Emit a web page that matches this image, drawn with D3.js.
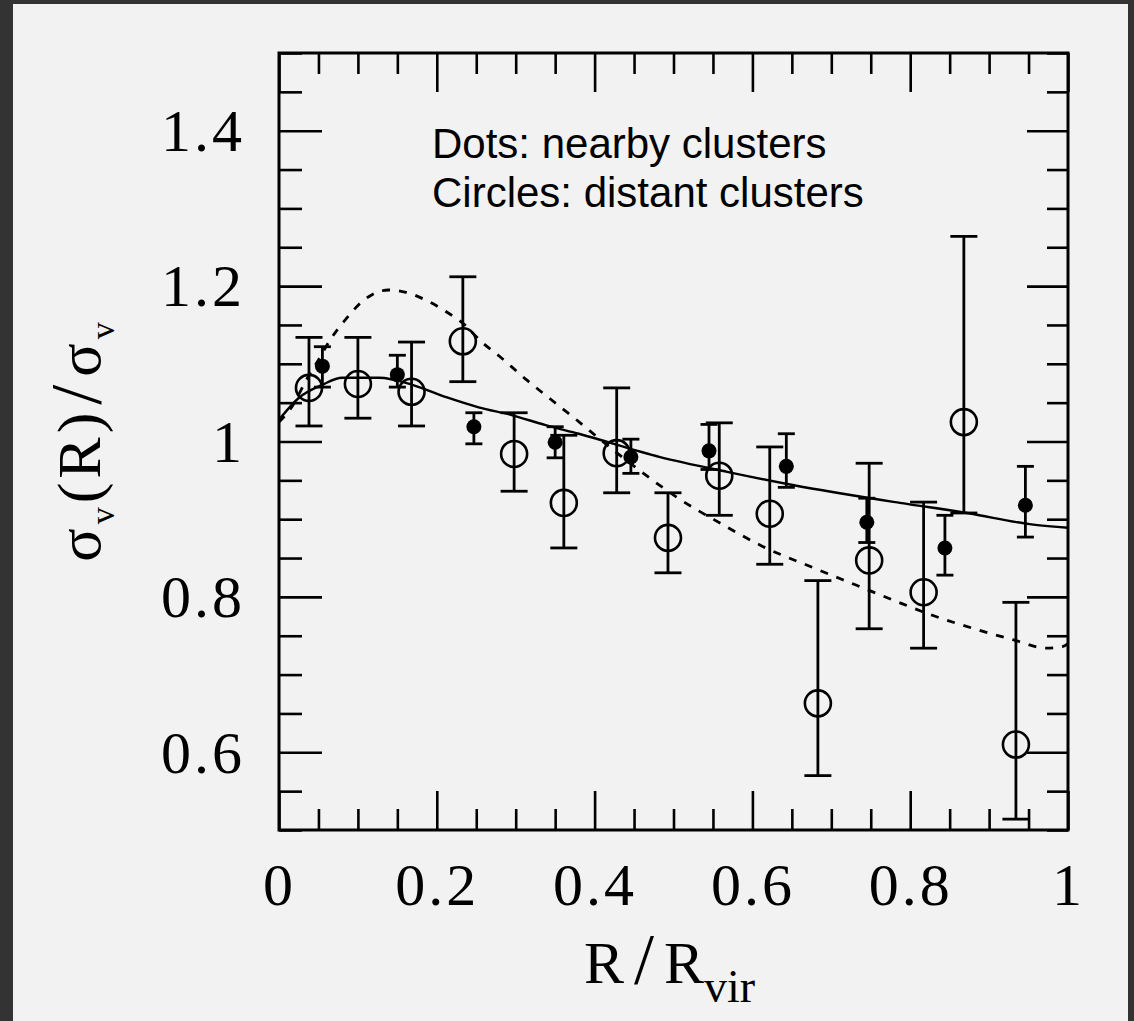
<!DOCTYPE html>
<html>
<head>
<meta charset="utf-8">
<script src="https://cdn.jsdelivr.net/npm/d3@7"></script>
<style>
html, body { margin: 0; padding: 0; background: #333; }
svg { display: block; }
</style>
</head>
<body>
<svg id="chart" width="1134" height="1021"></svg>
<script>
// nearby clusters (dots)
const near_r  = [0.055, 0.150, 0.247, 0.350, 0.446, 0.545, 0.643, 0.745, 0.844, 0.946]
const near_s  = [1.097, 1.086, 1.019, 0.999, 0.980, 0.988, 0.968, 0.896, 0.863, 0.918]
const near_lo = [1.070, 1.070, 0.997, 0.979, 0.959, 0.964, 0.941, 0.870, 0.828, 0.877]
const near_hi = [1.122, 1.111, 1.037, 1.019, 1.003, 1.022, 1.010, 0.927, 0.905, 0.968]

// distant clusters (circles)
const far_r  = [0.038, 0.100, 0.168, 0.233, 0.298, 0.361, 0.428, 0.493, 0.558, 0.622, 0.683, 0.748, 0.817, 0.868, 0.934]
const far_s  = [1.069, 1.074, 1.064, 1.129, 0.984, 0.921, 0.985, 0.876, 0.956, 0.907, 0.663, 0.847, 0.806, 1.025, 0.610]
const far_lo = [1.020, 1.030, 1.020, 1.077, 0.936, 0.863, 0.934, 0.831, 0.905, 0.842, 0.570, 0.759, 0.734, 0.908, 0.514]
const far_hi = [1.134, 1.134, 1.128, 1.212, 1.037, 1.008, 1.069, 0.934, 1.024, 0.993, 0.821, 0.972, 0.922, 1.264, 0.793]

// solid fit
const fit_r = [0, 0.025, 0.055, 0.080, 0.127, 0.169, 0.212, 0.253, 0.295, 0.338, 0.380, 0.483, 0.568, 0.651, 0.787, 0.872, 0.956, 1.0]
const fit_s = [1.028, 1.056, 1.073, 1.082, 1.082, 1.073, 1.057, 1.044, 1.034, 1.021, 1.010, 0.980, 0.961, 0.944, 0.921, 0.908, 0.893, 0.889]

// dashed model
const model_r = [0, 0.016, 0.035, 0.050, 0.065, 0.086, 0.101, 0.118, 0.139, 0.161, 0.186, 0.212, 0.231, 0.258, 0.279, 0.295, 0.313, 0.330, 0.351, 0.377, 0.390, 0.420, 0.458, 0.506, 0.559, 0.613, 0.676, 0.732, 0.783, 0.829, 0.888, 0.930, 0.973, 0.993, 1.0]
const model_s = [1.025, 1.044, 1.080, 1.105, 1.131, 1.159, 1.176, 1.189, 1.195, 1.192, 1.182, 1.167, 1.154, 1.127, 1.110, 1.096, 1.080, 1.066, 1.049, 1.028, 1.017, 0.992, 0.962, 0.927, 0.895, 0.865, 0.838, 0.815, 0.794, 0.776, 0.757, 0.745, 0.734, 0.736, 0.740]

const x_major = [0, 0.2, 0.4, 0.6, 0.8, 1]
const x_labels = ['0', '0.2', '0.4', '0.6', '0.8', '1']
const y_major = [0.6, 0.8, 1.0, 1.2, 1.4]
const y_labels = ['0.6', '0.8', '1', '1.2', '1.4']
const legend_lines = ['Dots: nearby clusters', 'Circles: distant clusters']

const SERIF = '"Liberation Serif", "Times New Roman", serif'
const SANS = '"Liberation Sans", Arial, sans-serif'

const svg = d3.select('#chart')

svg.append('rect')
	.attr('x', 13).attr('y', 4)
	.attr('width', 1115).attr('height', 1017)
	.attr('fill', '#f2f2f2')

const box = { left: 279, right: 1068, top: 53, bottom: 830 }
const x = d3.scaleLinear().domain([0, 1]).range([box.left, box.right])
const y = d3.scaleLinear().domain([0.5, 1.5]).range([box.bottom, box.top])

const x_minor = d3.range(0, 21).map(i => i * 0.05).filter(v => Math.abs(v * 5 - Math.round(v * 5)) > 1e-6)
const y_minor = d3.range(0, 21).map(i => 0.5 + i * 0.05).filter(v => Math.abs(v * 5 - Math.round(v * 5)) > 1e-6)

// ticks point inward on all four sides
const ticks = (axis, at, values, size, fmt, pad) => {
	const g = svg.append('g')
		.attr('transform', at)
		.call(axis.tickValues(values).tickSizeInner(-size).tickSizeOuter(0)
			.tickFormat(fmt || (_ => '')).tickPadding(pad || 0))
	g.select('.domain').remove()
	g.selectAll('line').attr('stroke', '#000').attr('stroke-width', 2.6)
	g.attr('font-family', SERIF).attr('font-size', 60)
	g.selectAll('text').attr('fill', '#000').style('letter-spacing', '3px')
	return g
}

ticks(d3.axisBottom(x), `translate(0,${box.bottom})`, x_major, 39, (d, i) => x_labels[i], 32)
ticks(d3.axisBottom(x), `translate(0,${box.bottom})`, x_minor, 21)
ticks(d3.axisTop(x), `translate(0,${box.top})`, x_major, 39)
ticks(d3.axisTop(x), `translate(0,${box.top})`, x_minor, 21)
ticks(d3.axisLeft(y), `translate(${box.left},0)`, y_major, 43, (d, i) => y_labels[i], 34)
	.selectAll('text').attr('dy', '0.33em')
ticks(d3.axisLeft(y), `translate(${box.left},0)`, y_minor, 23)
ticks(d3.axisRight(y), `translate(${box.right},0)`, y_major, 41)
ticks(d3.axisRight(y), `translate(${box.right},0)`, y_minor, 21)

svg.append('rect')
	.attr('x', box.left).attr('y', box.top)
	.attr('width', box.right - box.left).attr('height', box.bottom - box.top)
	.attr('fill', 'none').attr('stroke', '#000').attr('stroke-width', 3)

// curves
const line = d3.line().x(d => x(d[0])).y(d => y(d[1])).curve(d3.curveMonotoneX)

svg.append('path')
	.attr('d', line(d3.zip(model_r, model_s)))
	.attr('fill', 'none').attr('stroke', '#000')
	.attr('stroke-width', 2.8).attr('stroke-dasharray', '8,9')

svg.append('path')
	.attr('d', line(d3.zip(fit_r, fit_s)))
	.attr('fill', 'none').attr('stroke', '#000').attr('stroke-width', 2.4)

// error bars + markers
const errbars = (rs, lo, hi, cap) => {
	const g = svg.append('g').attr('stroke', '#000').attr('stroke-width', 2.8)
	rs.forEach((r, i) => {
		g.append('line').attr('x1', x(r)).attr('x2', x(r)).attr('y1', y(lo[i])).attr('y2', y(hi[i]))
		for (const v of [lo[i], hi[i]])
			g.append('line').attr('x1', x(r) - cap).attr('x2', x(r) + cap).attr('y1', y(v)).attr('y2', y(v))
	})
}

errbars(far_r, far_lo, far_hi, 13.5)
errbars(near_r, near_lo, near_hi, 8.5)

svg.append('g').selectAll('circle')
	.data(d3.zip(far_r, far_s))
	.join('circle')
	.attr('cx', d => x(d[0])).attr('cy', d => y(d[1]))
	.attr('r', 13)
	.attr('fill', 'none').attr('stroke', '#000').attr('stroke-width', 2.6)

svg.append('g').selectAll('circle')
	.data(d3.zip(near_r, near_s))
	.join('circle')
	.attr('cx', d => x(d[0])).attr('cy', d => y(d[1]))
	.attr('r', 7.5)
	.attr('fill', '#000')

// legend
svg.append('g')
	.attr('font-family', SANS).attr('font-size', 42).attr('fill', '#000')
	.selectAll('text')
	.data(legend_lines)
	.join('text')
	.attr('x', 432)
	.attr('y', (d, i) => 158 + i * 49)
	.text(d => d)

// axis titles
const xt = svg.append('text')
	.attr('x', 584).attr('y', 983)
	.attr('font-family', SERIF).attr('font-size', 60).attr('fill', '#000')
xt.append('tspan').text('R')
xt.append('tspan').attr('dx', 10).attr('font-size', 72).text('/')
xt.append('tspan').attr('dx', 10).text('R')
xt.append('tspan').attr('dy', 19).attr('font-size', 46).text('vir')

const yt = svg.append('text')
	.attr('transform', 'translate(100,440) rotate(-90)')
	.attr('text-anchor', 'middle')
	.attr('font-family', SERIF).attr('font-size', 62).attr('fill', '#000')
	.style('letter-spacing', '4px')
yt.append('tspan').text('σ')
yt.append('tspan').attr('dy', 14).attr('font-size', 34).text('v')
yt.append('tspan').attr('dy', -14).text('(R)')
yt.append('tspan').attr('dx', 4).attr('font-size', 72).text('/')
yt.append('tspan').attr('dx', 4).text('σ')
yt.append('tspan').attr('dy', 14).attr('font-size', 34).text('v')
</script>
</body>
</html>
